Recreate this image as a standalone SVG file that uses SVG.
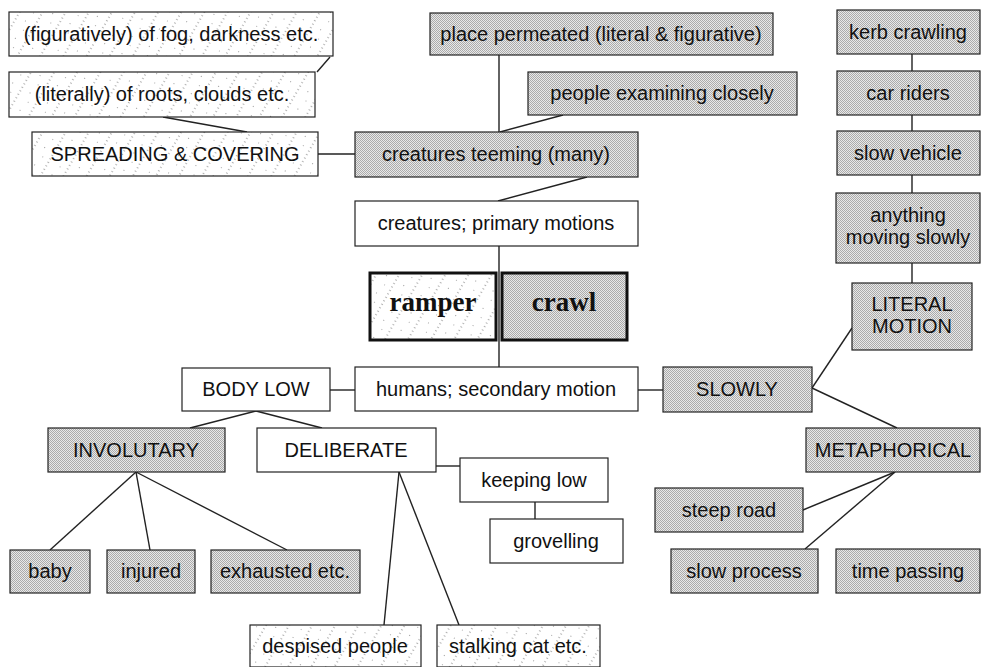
<svg xmlns="http://www.w3.org/2000/svg" width="983" height="667" viewBox="0 0 983 667">
<defs>
<pattern id="dots" width="2" height="2" patternUnits="userSpaceOnUse">
<rect width="2" height="2" fill="#e8e8e8"/>
<rect x="0" y="0" width="1" height="1" fill="#ababab"/>
<rect x="1" y="1" width="1" height="1" fill="#ababab"/>
</pattern>
<pattern id="hatch" width="20" height="20" patternUnits="userSpaceOnUse" patternTransform="rotate(30)">
<rect width="20" height="20" fill="#ffffff"/>
<line x1="3" y1="0" x2="3" y2="20" stroke="#6a6a6a" stroke-width="1" stroke-dasharray="1 3"/>
<rect x="12" y="5" width="1" height="1" fill="#999"/>
<rect x="15" y="14" width="1" height="1" fill="#aaa"/>
</pattern>
<style>
.box rect{stroke:#222;stroke-width:1.2}
.w{fill:#fff}
.d{fill:url(#dots)}
.h{fill:url(#hatch)}
.thick rect{stroke:#111;stroke-width:3}
text{font-family:"Liberation Sans",Arial,sans-serif;font-size:20px;fill:#111;text-anchor:middle}
.serif{font-family:"Liberation Serif","Times New Roman",serif;font-size:27px;font-weight:bold}
#connectors line{stroke:#222;stroke-width:1.4}
</style>
</defs>
<rect width="983" height="667" fill="#fff"/>
<g id="connectors">
<line x1="330" y1="57" x2="317" y2="72"/>
<line x1="163" y1="117" x2="247" y2="132"/>
<line x1="318" y1="154" x2="355" y2="154"/>
<line x1="499" y1="55" x2="499" y2="132"/>
<line x1="563" y1="115" x2="500" y2="132"/>
<line x1="587" y1="177" x2="498" y2="201"/>
<line x1="499" y1="246" x2="499" y2="367"/>
<line x1="330" y1="390" x2="355" y2="390"/>
<line x1="638" y1="390" x2="663" y2="390"/>
<line x1="812" y1="388" x2="852" y2="328"/>
<line x1="812" y1="388" x2="897" y2="428"/>
<line x1="912" y1="54" x2="912" y2="71"/>
<line x1="912" y1="115" x2="912" y2="131"/>
<line x1="912" y1="175" x2="912" y2="193"/>
<line x1="912" y1="263" x2="912" y2="283"/>
<line x1="256" y1="411" x2="190" y2="428"/>
<line x1="256" y1="411" x2="322" y2="428"/>
<line x1="136" y1="472" x2="50" y2="550"/>
<line x1="136" y1="472" x2="150" y2="550"/>
<line x1="136" y1="472" x2="287" y2="550"/>
<line x1="399" y1="472" x2="384" y2="625"/>
<line x1="399" y1="472" x2="459" y2="625"/>
<line x1="436" y1="466" x2="460" y2="466"/>
<line x1="535" y1="502" x2="535" y2="519"/>
<line x1="895" y1="472" x2="803" y2="510"/>
<line x1="895" y1="472" x2="805" y2="549"/>
</g>
<g id="fig" class="box"><rect class="h" x="9" y="12" width="324" height="44"/><text x="171" y="41">(figuratively) of fog, darkness etc.</text></g>
<g id="lit" class="box"><rect class="h" x="9" y="72" width="306" height="45"/><text x="162" y="101">(literally) of roots, clouds etc.</text></g>
<g id="spread" class="box"><rect class="h" x="32" y="132" width="286" height="44"/><text x="175" y="161">SPREADING &amp; COVERING</text></g>
<g id="place" class="box"><rect class="d" x="430" y="13" width="343" height="42"/><text x="601" y="41">place permeated (literal &amp; figurative)</text></g>
<g id="people" class="box"><rect class="d" x="528" y="72" width="269" height="43"/><text x="662" y="100">people examining closely</text></g>
<g id="teeming" class="box"><rect class="d" x="355" y="132" width="283" height="45"/><text x="496" y="161">creatures teeming (many)</text></g>
<g id="primary" class="box"><rect class="w" x="355" y="201" width="283" height="45"/><text x="496" y="230">creatures; primary motions</text></g>
<g id="ramper" class="box thick"><rect class="h" x="370" y="273" width="126" height="67"/><text class="serif" x="433" y="311">ramper</text></g>
<g id="crawl" class="box thick"><rect class="d" x="502" y="273" width="125" height="67"/><text class="serif" x="564" y="311">crawl</text></g>
<g id="humans" class="box"><rect class="w" x="355" y="367" width="283" height="44"/><text x="496" y="396">humans; secondary motion</text></g>
<g id="bodylow" class="box"><rect class="w" x="182" y="368" width="148" height="43"/><text x="256" y="396">BODY LOW</text></g>
<g id="slowly" class="box"><rect class="d" x="663" y="367" width="149" height="45"/><text x="737" y="396">SLOWLY</text></g>
<g id="literal" class="box"><rect class="d" x="852" y="283" width="120" height="67"/><text x="912" y="311">LITERAL</text><text x="912" y="333">MOTION</text></g>
<g id="metaphorical" class="box"><rect class="d" x="806" y="428" width="174" height="44"/><text x="893" y="457">METAPHORICAL</text></g>
<g id="kerb" class="box"><rect class="d" x="837" y="10" width="143" height="44"/><text x="908" y="39">kerb crawling</text></g>
<g id="car" class="box"><rect class="d" x="837" y="71" width="143" height="44"/><text x="908" y="100">car riders</text></g>
<g id="slowvehicle" class="box"><rect class="d" x="837" y="131" width="143" height="44"/><text x="908" y="160">slow vehicle</text></g>
<g id="anything" class="box"><rect class="d" x="836" y="193" width="144" height="70"/><text x="908" y="222">anything</text><text x="908" y="244">moving slowly</text></g>
<g id="involuntary" class="box"><rect class="d" x="48" y="428" width="177" height="44"/><text x="136" y="457">INVOLUTARY</text></g>
<g id="deliberate" class="box"><rect class="w" x="257" y="428" width="179" height="44"/><text x="346" y="457">DELIBERATE</text></g>
<g id="keeping" class="box"><rect class="w" x="460" y="458" width="148" height="44"/><text x="534" y="487">keeping low</text></g>
<g id="grovelling" class="box"><rect class="w" x="490" y="519" width="133" height="44"/><text x="556" y="548">grovelling</text></g>
<g id="baby" class="box"><rect class="d" x="10" y="550" width="80" height="43"/><text x="50" y="578">baby</text></g>
<g id="injured" class="box"><rect class="d" x="107" y="550" width="88" height="43"/><text x="151" y="578">injured</text></g>
<g id="exhausted" class="box"><rect class="d" x="211" y="550" width="149" height="43"/><text x="285" y="578">exhausted etc.</text></g>
<g id="despised" class="box"><rect class="h" x="250" y="625" width="171" height="42"/><text x="335" y="653">despised people</text></g>
<g id="stalking" class="box"><rect class="h" x="437" y="625" width="163" height="42"/><text x="518" y="653">stalking cat etc.</text></g>
<g id="steep" class="box"><rect class="d" x="655" y="488" width="148" height="44"/><text x="729" y="517">steep road</text></g>
<g id="slowprocess" class="box"><rect class="d" x="671" y="549" width="147" height="44"/><text x="744" y="578">slow process</text></g>
<g id="timepassing" class="box"><rect class="d" x="836" y="549" width="144" height="44"/><text x="908" y="578">time passing</text></g>
</svg>
